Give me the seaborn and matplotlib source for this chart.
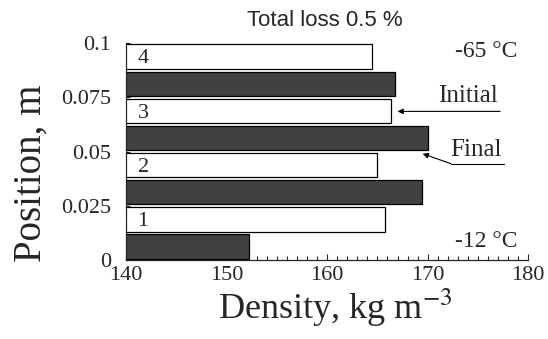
import pandas as pd
import seaborn as sns
import matplotlib.pyplot as plt
from matplotlib.ticker import MultipleLocator

# sample slices (centre of each 0.025 m layer) and densities
positions = [0.0125, 0.0375, 0.0625, 0.0875]
sample_labels = ['1', '2', '3', '4']
initial_density = [165.8, 165.0, 166.3, 164.5]
final_density = [152.2, 169.4, 170.0, 166.7]

df = pd.DataFrame({
    'Position': positions * 2,
    'Density': initial_density + final_density,
    'State': ['Initial'] * len(positions) + ['Final'] * len(positions),
})

sns.set_style('ticks')
plt.rcParams['font.family'] = ['Liberation Serif', 'DejaVu Serif']
plt.rcParams['mathtext.fontset'] = 'stix'

fig = plt.figure(figsize=(5.48, 3.39), dpi=100)
ax = fig.add_axes([0.23, 0.233, 0.734, 0.64])

sns.barplot(data=df, x='Density', y='Position', hue='State', hue_order=['Final', 'Initial'],
            orient='h', native_scale=True, width=1.0, gap=0.1, dodge=True,
            palette={'Initial': 'white', 'Final': '#414141'},
            edgecolor='black', linewidth=0.9, legend=False, ax=ax)

ax.set_xlim(140, 180)
ax.set_ylim(0, 0.1)
ax.set_xticks([140, 150, 160, 170, 180])
ax.set_yticks([0, 0.025, 0.05, 0.075, 0.1])
ax.set_yticklabels(['0', '0.025', '0.05', '0.075', '0.1'])
ax.xaxis.set_minor_locator(MultipleLocator(1))
ax.tick_params(axis='both', which='both', direction='in', labelsize=16, width=0.8)
ax.tick_params(axis='x', which='major', length=4, pad=4)
ax.tick_params(axis='x', which='minor', length=3)
ax.tick_params(axis='y', length=3, pad=11)
sns.despine(ax=ax)
for sp in ['left', 'bottom']:
    ax.spines[sp].set_linewidth(0.9)
    ax.spines[sp].set_zorder(5)

ax.set_xlabel('Density, kg m$^{-3}$', fontsize=26)
ax.set_ylabel('Position, m', fontsize=28)
ax.xaxis.set_label_coords(0.52, -0.125)
ax.yaxis.set_label_coords(-0.19, 0.40)

for lab, pos in zip(sample_labels, positions):
    ax.text(141.7, pos + 0.0052, lab, fontsize=16, ha='center', va='center')

ax.text(175.8, 0.096, '-65 °C', fontsize=17, ha='center', va='center')
ax.text(175.8, 0.0085, '-12 °C', fontsize=17, ha='center', va='center')

# labels with arrows
ax.text(174.0, 0.0755, 'Initial', fontsize=18, ha='center', va='center')
ax.annotate('', xy=(167.0, 0.0685), xytext=(177.2, 0.0685),
            arrowprops=dict(arrowstyle='-|>', color='black', lw=0.8,
                            mutation_scale=8, shrinkA=0, shrinkB=0))
ax.text(174.8, 0.0505, 'Final', fontsize=18, ha='center', va='center')
ax.plot([172.3, 177.6], [0.0444, 0.0444], color='black', lw=0.8, clip_on=False)
ax.annotate('', xy=(169.5, 0.049), xytext=(172.3, 0.0444),
            arrowprops=dict(arrowstyle='-|>', color='black', lw=0.8,
                            mutation_scale=8, shrinkA=0, shrinkB=0))

fig.text(0.593, 0.94, 'Total loss 0.5 %', fontsize=16, ha='center', va='center',
         family=['Liberation Sans', 'DejaVu Sans'])

fig.savefig('out.png', dpi=100)
